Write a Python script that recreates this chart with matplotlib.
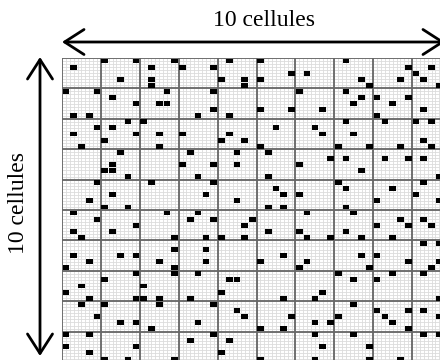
import numpy as np
import matplotlib
matplotlib.use("Agg")
import matplotlib.pyplot as plt
from matplotlib.patches import Rectangle, FancyArrowPatch

# grille : 10 x 10 cellules, chaque cellule = 5 x 5 sites
n_cells = 10
sites_per_cell = 5
label = "10 cellules"

# sites occupes (colonne, ligne)
squares_top = [
    (1, 1), (5, 0), (9, 0), (14, 0), (11, 1), (7, 3), (11, 3), (11, 4), (0, 5), (4, 5),
    (13, 5), (6, 6), (9, 7), (12, 7), (13, 7), (1, 9), (3, 9), (8, 10), (10, 10), (4, 11),
    (6, 11), (1, 12), (9, 12), (12, 12), (5, 13), (2, 14), (12, 14),
    (15, 1), (19, 1), (21, 0), (25, 0), (29, 2), (20, 3), (23, 3), (23, 4), (25, 3),
    (19, 5), (30, 5), (19, 8), (25, 8), (29, 8), (17, 9), (21, 9), (27, 11), (15, 12),
    (21, 12), (20, 13), (23, 13), (25, 14),
    (36, 0), (44, 1), (47, 1), (31, 2), (45, 2), (38, 3), (43, 3), (46, 3), (39, 4),
    (48, 4), (36, 5), (38, 6), (40, 6), (44, 6), (37, 7), (42, 7), (33, 8), (46, 8),
    (40, 9), (36, 10), (41, 10), (45, 10), (47, 10), (32, 11), (33, 12), (37, 12),
    (46, 13), (35, 14), (39, 14), (43, 14), (47, 14),
]
squares_mid = [
    (7, 15), (6, 17), (5, 18), (6, 18), (8, 19), (4, 20), (11, 20), (6, 22), (3, 23),
    (5, 24), (8, 24), (1, 25), (13, 25), (4, 26), (9, 27), (1, 28), (6, 28), (2, 29),
    (14, 29), (14, 31),
    (16, 15), (22, 15), (26, 15), (15, 17), (19, 17), (22, 17), (30, 17), (17, 19),
    (26, 19), (19, 20), (18, 22), (27, 21), (28, 22), (30, 22), (22, 23), (26, 24),
    (28, 24), (17, 25), (16, 26), (19, 26), (24, 26), (23, 27), (26, 28), (30, 28),
    (18, 29), (20, 29), (23, 29), (18, 31),
    (34, 16), (36, 16), (41, 16), (44, 16), (46, 16), (38, 18), (48, 19), (35, 20),
    (36, 21), (42, 21), (46, 20), (45, 22), (40, 23), (48, 23), (36, 24), (37, 25),
    (31, 25), (43, 26), (46, 26), (40, 27), (44, 27), (47, 27), (36, 28), (31, 29),
    (34, 29), (38, 29), (42, 29), (46, 30), (48, 30),
]
squares_bot = [
    (1, 32), (7, 32), (9, 32), (3, 33), (0, 34), (12, 33), (14, 34), (14, 35), (9, 35),
    (5, 36), (10, 37), (2, 37), (0, 38), (3, 39), (9, 39), (10, 39), (12, 39), (12, 40),
    (2, 40), (5, 40), (4, 42), (7, 43), (9, 43), (11, 44), (0, 45), (3, 45), (0, 47),
    (9, 47), (3, 48), (5, 49), (8, 49), (14, 49),
    (28, 32), (18, 33), (25, 33), (17, 35), (30, 34), (21, 36), (22, 36), (20, 38),
    (16, 39), (28, 39), (19, 40), (22, 41), (23, 42), (29, 42), (17, 43), (25, 44),
    (28, 44), (19, 45), (16, 46), (21, 46), (20, 48), (25, 49),
    (38, 32), (40, 32), (31, 33), (44, 33), (39, 34), (47, 34), (48, 33), (35, 35),
    (42, 35), (46, 35), (37, 36), (40, 36), (33, 38), (32, 39), (48, 39), (37, 40),
    (40, 41), (44, 41), (46, 41), (35, 42), (41, 42), (48, 42), (32, 43), (34, 43),
    (42, 43), (44, 44), (32, 45), (37, 45), (46, 45), (48, 45), (33, 47), (39, 47),
    (32, 49), (39, 49), (43, 49),
]

W, H = 440, 360
fig = plt.figure(figsize=(W / 100, H / 100), dpi=100)
fig.patch.set_facecolor("white")

def fx(px):
    return px / W

def fy(py):
    return 1 - py / H

ax = fig.add_axes([fx(62), fy(362), 389 / W, 304 / H])
n = n_cells * sites_per_cell
ax.set_xlim(0, n)
ax.set_ylim(n, 0)
ax.axis("off")

fine = np.arange(0, n + 0.01, 0.5)
ax.vlines(fine, 0, n, colors="#dcdcdc", lw=0.6, zorder=1)
ax.hlines(fine, 0, n, colors="#dcdcdc", lw=0.6, zorder=1)
major = np.arange(0, n + 1, sites_per_cell)
ax.vlines(major, 0, n, colors="#666666", lw=1.3, zorder=2)
ax.hlines(major, 0, n, colors="#666666", lw=1.3, zorder=2)

for c, r in squares_top + squares_mid + squares_bot:
    ax.add_patch(Rectangle((c + 0.07, r + 0.1), 0.86, 0.8,
                           facecolor="black", edgecolor="none", zorder=3))

# fleches
style = "<->,head_length=0.7,head_width=0.45"
top = FancyArrowPatch((fx(62), fy(42)), (fx(445), fy(42)), transform=fig.transFigure,
                      arrowstyle=style, mutation_scale=20, lw=2, color="black",
                      shrinkA=0, shrinkB=0)
left = FancyArrowPatch((fx(40), fy(57)), (fx(40), fy(356)), transform=fig.transFigure,
                       arrowstyle=style, mutation_scale=20, lw=2, color="black",
                       shrinkA=0, shrinkB=0)
fig.add_artist(top)
fig.add_artist(left)

fig.text(fx(264), fy(20), label, ha="center", va="center", fontsize=17,
         family="Liberation Serif")
fig.text(fx(19), fy(203), label, ha="center", va="center", fontsize=17,
         family="Liberation Serif", rotation=90)

fig.savefig("out.png", dpi=100)
